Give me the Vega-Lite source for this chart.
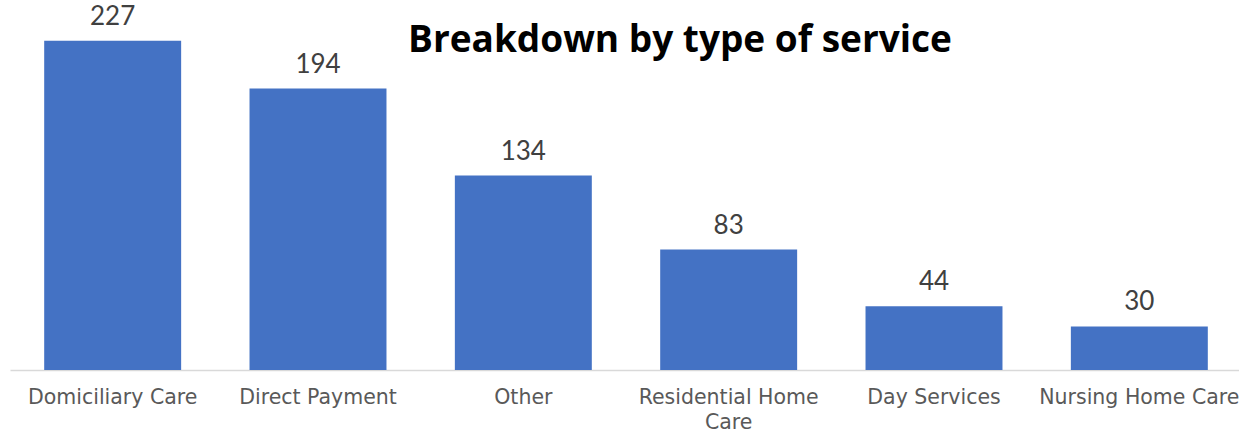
{
  "$schema": "https://vega.github.io/schema/vega-lite/v6.json",
  "width": 1232,
  "height": 370,
  "autosize": {"type": "none"},
  "padding": {"left": 10, "top": 0, "right": 0, "bottom": 66},
  "background": "white",
  "title": {
    "text": "Breakdown by type of service",
    "anchor": "middle",
    "frame": "group",
    "font": "Open Sans",
    "fontSize": 37,
    "fontWeight": "bold",
    "color": "#000000",
    "baseline": "alphabetic",
    "offset": 0,
    "dx": 54,
    "dy": 89
  },
  "data": {
    "values": [
      {"service": "Domiciliary Care", "count": 227},
      {"service": "Direct Payment", "count": 194},
      {"service": "Other", "count": 134},
      {"service": "Residential Home Care", "count": 83},
      {"service": "Day Services", "count": 44},
      {"service": "Nursing Home Care", "count": 30}
    ]
  },
  "encoding": {
    "x": {
      "field": "service",
      "type": "nominal",
      "sort": null,
      "scale": {"paddingInner": 0.333, "paddingOuter": 0.1665},
      "axis": {
        "title": null,
        "labelAngle": 0,
        "ticks": false,
        "domainColor": "#d9d9d9",
        "domainWidth": 1.5,
        "labelFont": "DejaVu Sans",
        "labelFontSize": 20.5,
        "labelColor": "#595959",
        "labelPadding": 17,
        "labelBaseline": "top",
        "labelLineHeight": 25,
        "labelLimit": 300,
        "labelExpr": "datum.label == 'Residential Home Care' ? ['Residential Home', 'Care'] : datum.label"
      }
    },
    "y": {
      "field": "count",
      "type": "quantitative",
      "scale": {"domain": [0, 255]},
      "axis": null
    }
  },
  "layer": [
    {"mark": {"type": "bar", "color": "#4472C4"}},
    {
      "mark": {
        "type": "text",
        "baseline": "alphabetic",
        "dy": -16,
        "font": "Lato",
        "fontSize": 26,
        "color": "#404040"
      },
      "encoding": {"text": {"field": "count", "type": "quantitative"}}
    }
  ],
  "config": {"view": {"stroke": null}}
}
